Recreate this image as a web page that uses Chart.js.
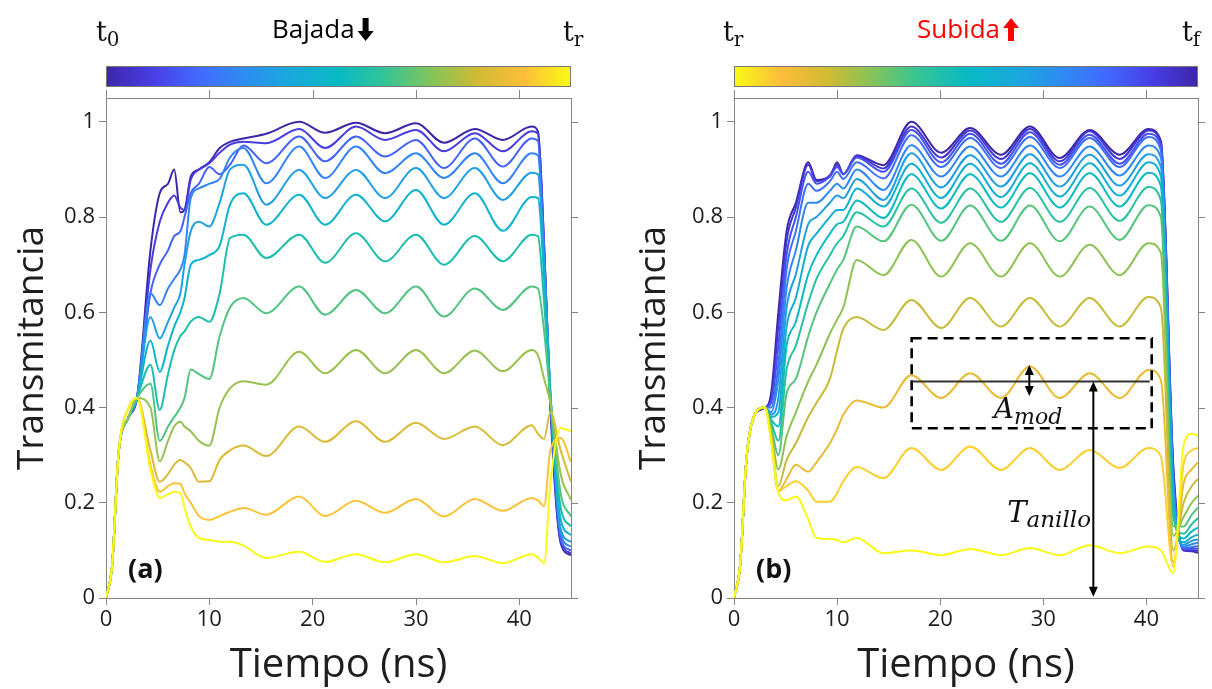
<!DOCTYPE html>
<html>
<head>
<meta charset="utf-8">
<script src="https://cdn.jsdelivr.net/npm/chart.js@4.4.1/dist/chart.umd.min.js"></script>
<style>
  html, body { margin: 0; padding: 0; background: #fff; }
  #wrap { position: relative; width: 1212px; height: 689px; overflow: hidden; background: #fff; }
  canvas { position: absolute; top: 0; }
  #chartA { left: 0; }
  #chartB { left: 606px; }
</style>
</head>
<body>
<div id="wrap">
  <canvas id="chartA" width="606" height="689"></canvas>
  <canvas id="chartB" width="606" height="689"></canvas>
</div>
<script>
// tick values shared by both panels
const xTicks = [0, 10, 20, 30, 40];
const yTicks = [0, 0.2, 0.4, 0.6, 0.8, 1];

// (a) Bajada: sample times (ns) and one curve per step, t0 (purple) -> tr (yellow)
const timesA = [0, 0.6, 1.2, 2.2, 3, 4.3, 5.2, 6, 6.6, 7.2, 7.6, 8.2, 9, 10, 11, 12, 13.3, 15.5, 18.7, 21.2, 24.2, 27, 30, 32.7, 35.7, 38.4, 41.2, 41.8, 42.4, 43, 44, 45];
const a0  = [0, .07, .30, .38, .42, .73, .85, .87, .90, .81, .815, .885, .90, .915, .945, .958, .965, .975, 1.0, .977, .998, .976, .997, .956, .985, .962, .99, .98, .74, .40, .115, .09];
const a1  = [0, .07, .30, .38, .42, .69, .79, .83, .845, .82, .815, .878, .90, .913, .935, .952, .958, .955, .985, .945, .99, .962, .983, .938, .976, .938, .98, .975, .74, .41, .12, .094];
const a2  = [0, .07, .30, .38, .42, .64, .70, .73, .76, .77, .80, .85, .87, .905, .89, .91, .95, .913, .969, .917, .969, .927, .962, .903, .965, .906, .965, .96, .73, .42, .125, .10];
const a3  = [0, .07, .30, .38, .42, .64, .615, .65, .67, .69, .72, .84, .86, .87, .88, .925, .945, .871, .948, .882, .948, .892, .934, .882, .934, .871, .934, .93, .72, .43, .135, .108];
const a4  = [0, .07, .30, .38, .42, .59, .545, .58, .61, .64, .70, .77, .79, .78, .83, .90, .91, .826, .899, .84, .899, .84, .903, .84, .903, .836, .893, .89, .70, .43, .145, .118];
const a5  = [0, .07, .30, .38, .42, .54, .475, .53, .57, .60, .63, .70, .71, .72, .74, .826, .85, .784, .847, .784, .847, .791, .857, .784, .85, .771, .842, .84, .67, .43, .165, .132];
const a6  = [0, .07, .30, .38, .42, .49, .395, .47, .52, .55, .56, .58, .59, .58, .64, .756, .763, .714, .763, .704, .766, .707, .763, .70, .76, .707, .763, .76, .62, .43, .19, .15];
const a7  = [0, .07, .30, .38, .42, .45, .33, .36, .38, .40, .42, .48, .47, .46, .55, .61, .63, .598, .654, .595, .647, .598, .654, .591, .65, .605, .654, .65, .56, .42, .22, .171];
const a8  = [0, .07, .30, .38, .42, .40, .287, .33, .36, .37, .36, .35, .33, .32, .40, .44, .455, .448, .517, .472, .521, .472, .521, .472, .52, .476, .521, .51, .46, .41, .26, .206];
const a9  = [0, .07, .30, .40, .42, .31, .244, .26, .28, .29, .285, .273, .244, .245, .29, .31, .32, .298, .36, .328, .371, .328, .368, .334, .36, .321, .363, .345, .334, .39, .31, .244];
const a10 = [0, .07, .30, .40, .42, .28, .223, .235, .241, .24, .22, .20, .172, .164, .172, .181, .189, .175, .213, .172, .204, .179, .208, .171, .208, .183, .21, .205, .193, .31, .336, .286];
const a11 = [0, .07, .30, .40, .42, .27, .21, .218, .223, .22, .19, .15, .126, .122, .118, .118, .11, .084, .097, .076, .092, .075, .092, .075, .088, .073, .092, .085, .073, .24, .357, .35];

// (b) Subida: tf (purple, top) ... tr (yellow, bottom)
const timesB = [0, 0.6, 1.2, 2, 3, 3.6, 4.3, 5.1, 6, 7.2, 8, 9.3, 10, 10.6, 11.9, 14.5, 17.2, 20.1, 22.9, 25.9, 28.7, 31.6, 34.5, 37.4, 40.2, 41.4, 42.6, 43.6, 44.4, 45];
const b0  = [0, .07, .29, .385, .40, .43, .60, .77, .83, .915, .878, .885, .915, .89, .93, .909, 1.0, .935, .987, .931, .99, .924, .983, .931, .985, .96, .28, .10, .098, .095];
const b1  = [0, .07, .29, .385, .40, .42, .57, .75, .82, .91, .875, .888, .91, .89, .928, .902, .99, .925, .982, .922, .985, .917, .98, .922, .982, .955, .27, .10, .10, .099];
const b2  = [0, .07, .29, .385, .40, .41, .53, .72, .80, .895, .87, .885, .905, .89, .925, .895, .983, .915, .975, .912, .978, .91, .973, .912, .975, .95, .26, .103, .103, .104];
const b3  = [0, .07, .29, .385, .40, .40, .49, .69, .77, .87, .855, .875, .895, .88, .915, .881, .972, .905, .966, .903, .968, .903, .966, .905, .968, .94, .25, .105, .107, .109];
const b4  = [0, .07, .29, .385, .40, .39, .46, .65, .73, .83, .83, .855, .87, .86, .90, .857, .951, .885, .948, .885, .95, .885, .948, .887, .95, .925, .24, .108, .113, .116];
const b5  = [0, .07, .29, .385, .40, .385, .42, .61, .68, .785, .80, .83, .845, .84, .88, .836, .934, .862, .93, .864, .932, .864, .931, .866, .932, .905, .22, .112, .12, .123];
const b6  = [0, .07, .29, .385, .40, .38, .39, .57, .63, .74, .765, .80, .815, .815, .86, .822, .912, .84, .912, .842, .913, .843, .913, .845, .915, .885, .20, .117, .128, .133];
const b7  = [0, .07, .29, .385, .40, .375, .36, .53, .58, .68, .72, .765, .785, .79, .835, .798, .89, .818, .89, .82, .892, .82, .892, .822, .893, .865, .19, .125, .14, .148];
const b8  = [0, .07, .29, .385, .40, .37, .33, .48, .53, .62, .67, .72, .745, .76, .81, .78, .86, .788, .86, .79, .861, .79, .861, .792, .863, .835, .17, .135, .155, .168];
const b9  = [0, .07, .29, .385, .40, .36, .30, .43, .46, .55, .60, .66, .69, .71, .78, .749, .826, .75, .824, .75, .824, .749, .822, .752, .825, .80, .15, .15, .175, .19];
const b10 = [0, .07, .29, .385, .40, .35, .27, .34, .39, .455, .49, .555, .585, .61, .71, .678, .752, .675, .745, .675, .745, .675, .742, .678, .745, .725, .13, .17, .20, .215];
const b11 = [0, .07, .29, .385, .40, .34, .235, .29, .325, .38, .41, .46, .52, .565, .59, .563, .626, .567, .63, .57, .63, .57, .63, .57, .632, .61, .10, .20, .235, .25];
const b12 = [0, .07, .29, .385, .40, .335, .225, .25, .28, .265, .285, .325, .355, .385, .415, .40, .468, .42, .472, .42, .486, .42, .472, .42, .479, .458, .075, .24, .27, .285];
const b13 = [0, .07, .29, .385, .40, .33, .224, .235, .245, .225, .202, .202, .22, .245, .275, .252, .315, .269, .318, .269, .315, .269, .311, .273, .315, .297, .066, .28, .31, .315];
const b14 = [0, .07, .29, .385, .40, .33, .222, .205, .213, .165, .126, .124, .122, .117, .126, .094, .10, .09, .103, .09, .105, .09, .111, .094, .108, .10, .052, .32, .345, .34];

// annotation of panel (b), in data units (ns, transmitance)
const boxT = [17.23, 40.51];
const boxV = [0.3565, 0.5456];
const meanV = 0.4544;
const ampT = 28.64, ampV = [0.4244, 0.4895];
const ringT = 34.85, ringV = [0.0027, 0.4544];

const seriesA = [a0, a1, a2, a3, a4, a5, a6, a7, a8, a9, a10, a11];
const seriesB = [b0, b1, b2, b3, b4, b5, b6, b7, b8, b9, b10, b11, b12, b13, b14];

const axisGray = '#858585';
const textDark = '#1e1e1e';
const serif = '"DejaVu Serif", "Liberation Serif", serif';

// parula-like colormap
const parulaStops = [
  [0.00, [62, 38, 168]], [0.10, [72, 62, 230]], [0.20, [66, 106, 254]],
  [0.30, [45, 142, 240]], [0.40, [24, 170, 218]], [0.50, [8, 186, 194]],
  [0.60, [52, 196, 150]], [0.70, [130, 196, 90]], [0.80, [210, 186, 52]],
  [0.90, [252, 190, 58]], [1.00, [249, 250, 20]]
];
function parula(t) {
  for (let i = 1; i < parulaStops.length; i++) {
    const [p0, c0] = parulaStops[i - 1];
    const [p1, c1] = parulaStops[i];
    if (t <= p1 + 1e-9) {
      const f = (t - p0) / (p1 - p0);
      const c = c0.map((v, k) => Math.round(v + (c1[k] - v) * f));
      return `rgb(${c[0]},${c[1]},${c[2]})`;
    }
  }
  return 'rgb(249,250,20)';
}

Chart.defaults.font.family = '"Open Sans", "Noto Sans", sans-serif';

function subLabel(ctx, x, base, sub) {
  ctx.fillStyle = '#111';
  ctx.textAlign = 'left';
  ctx.textBaseline = 'alphabetic';
  ctx.font = `27px ${serif}`;
  ctx.fillText(base, x, 41);
  const w = ctx.measureText(base).width;
  ctx.font = `20px ${serif}`;
  ctx.fillText(sub, x + w, 46);
}

function blockArrow(ctx, cx, top, bottom, dir, color) {
  const hw = 8, sw = 3, hl = 10;
  ctx.fillStyle = color;
  ctx.beginPath();
  if (dir === 'down') {
    ctx.moveTo(cx - sw, top); ctx.lineTo(cx + sw, top); ctx.lineTo(cx + sw, bottom - hl);
    ctx.lineTo(cx + hw, bottom - hl); ctx.lineTo(cx, bottom); ctx.lineTo(cx - hw, bottom - hl);
    ctx.lineTo(cx - sw, bottom - hl);
  } else {
    ctx.moveTo(cx - sw, bottom); ctx.lineTo(cx + sw, bottom); ctx.lineTo(cx + sw, top + hl);
    ctx.lineTo(cx + hw, top + hl); ctx.lineTo(cx, top); ctx.lineTo(cx - hw, top + hl);
    ctx.lineTo(cx - sw, top + hl);
  }
  ctx.closePath();
  ctx.fill();
}

function dblArrow(ctx, px, yTop, yBot) {
  ctx.beginPath();
  ctx.moveTo(px, yTop + 6); ctx.lineTo(px, yBot - 6);
  ctx.stroke();
  ctx.beginPath();
  ctx.moveTo(px, yTop); ctx.lineTo(px - 4.5, yTop + 10); ctx.lineTo(px + 4.5, yTop + 10); ctx.closePath();
  ctx.moveTo(px, yBot); ctx.lineTo(px - 4.5, yBot - 10); ctx.lineTo(px + 4.5, yBot - 10); ctx.closePath();
  ctx.fill();
}

const framePlugin = {
  id: 'frame',
  afterDraw(chart, args, o) {
    const { ctx, chartArea: a } = chart;
    const x = chart.scales.x, y = chart.scales.y;
    ctx.save();

    // box top/right with mirrored outward ticks
    ctx.strokeStyle = axisGray;
    ctx.lineWidth = 1;
    ctx.beginPath();
    ctx.moveTo(a.left, a.top + 0.5); ctx.lineTo(a.right + 0.5, a.top + 0.5);
    ctx.moveTo(a.right + 0.5, a.top); ctx.lineTo(a.right + 0.5, a.bottom);
    xTicks.forEach(v => {
      const px = Math.round(x.getPixelForValue(v)) + 0.5;
      ctx.moveTo(px, a.top); ctx.lineTo(px, a.top - 8);
    });
    yTicks.forEach(v => {
      const py = Math.round(y.getPixelForValue(v)) + 0.5;
      ctx.moveTo(a.right, py); ctx.lineTo(a.right + 7, py);
    });
    ctx.stroke();

    // colorbar
    const g = ctx.createLinearGradient(a.left, 0, a.right, 0);
    parulaStops.forEach(([p, c]) => g.addColorStop(o.reverse ? 1 - p : p, `rgb(${c[0]},${c[1]},${c[2]})`));
    ctx.fillStyle = g;
    ctx.fillRect(a.left, 66, a.right - a.left, 21);
    ctx.strokeStyle = '#777';
    ctx.strokeRect(a.left + 0.5, 66.5, a.right - a.left - 1, 20);

    // colorbar labels
    subLabel(ctx, o.leftX, 't', o.leftSub);
    subLabel(ctx, o.rightX, 't', o.rightSub);
    ctx.font = '26px "Open Sans", "Noto Sans", sans-serif';
    ctx.fillStyle = o.midColor;
    ctx.textBaseline = 'alphabetic';
    ctx.fillText(o.midText, o.midX, 38);
    const mw = ctx.measureText(o.midText).width;
    blockArrow(ctx, o.midX + mw + 11, 18, 41, o.arrow, o.midColor);

    // panel letter
    ctx.fillStyle = '#111';
    ctx.font = 'bold 27px "Open Sans", "Noto Sans", sans-serif';
    ctx.fillText(o.letter, a.left + 22, a.bottom - 20);

    if (o.annot) {
      const X = v => x.getPixelForValue(v), Y = v => y.getPixelForValue(v);
      ctx.strokeStyle = '#000';
      ctx.fillStyle = '#000';
      ctx.lineWidth = 2.6;
      ctx.setLineDash([10, 6]);
      ctx.strokeRect(X(boxT[0]), Y(boxV[1]), X(boxT[1]) - X(boxT[0]), Y(boxV[0]) - Y(boxV[1]));
      ctx.setLineDash([]);
      ctx.strokeStyle = '#333';
      ctx.lineWidth = 2;
      ctx.beginPath();
      ctx.moveTo(X(boxT[0]), Y(meanV)); ctx.lineTo(X(boxT[1]) - 2, Y(meanV));
      ctx.stroke();
      ctx.strokeStyle = '#000';
      dblArrow(ctx, X(ampT), Y(ampV[1]), Y(ampV[0]));
      dblArrow(ctx, X(ringT), Y(ringV[1]), Y(ringV[0]));

      ctx.fillStyle = '#111';
      ctx.font = `italic 28px ${serif}`;
      ctx.fillText('A', X(25.2), Y(0.378));
      let w = ctx.measureText('A').width;
      ctx.font = `italic 22px ${serif}`;
      ctx.fillText('mod', X(25.2) + w, Y(0.366));
      ctx.font = `italic 29px ${serif}`;
      ctx.fillText('T', X(26.5), Y(0.160));
      w = ctx.measureText('T').width;
      ctx.font = `italic 23px ${serif}`;
      ctx.fillText('anillo', X(26.5) + w, Y(0.149));
    }
    ctx.restore();
  }
};

function makeChart(id, times, series, frame) {
  const n = series.length;
  const axisCommon = {
    grid: { drawOnChartArea: false, drawTicks: true, tickLength: 7, color: axisGray, lineWidth: 1 },
    border: { display: true, color: axisGray, width: 1 },
  };
  return new Chart(document.getElementById(id), {
    type: 'line',
    data: {
      datasets: series.map((vals, i) => ({
        data: vals.map((v, k) => ({ x: times[k], y: v })),
        borderColor: parula(i / (n - 1)),
        borderWidth: 2,
        borderJoinStyle: 'round',
        pointRadius: 0,
        cubicInterpolationMode: 'monotone',
        fill: false,
        order: n - 1 - i
      }))
    },
    options: {
      responsive: false,
      animation: false,
      devicePixelRatio: 1,
      events: [],
      layout: { padding: { left: 0, right: frame.padRight, top: 98, bottom: 0 } },
      plugins: { legend: { display: false }, tooltip: { enabled: false }, frame },
      scales: {
        x: {
          type: 'linear', min: 0, max: 45,
          afterBuildTicks: s => { s.ticks = xTicks.map(value => ({ value })); },
          afterFit: s => { s.height = 91; },
          ...axisCommon,
          ticks: { color: textDark, font: { size: 22 }, padding: 2, maxRotation: 0, callback: v => String(v) },
          title: { display: true, text: 'Tiempo (ns)', color: textDark, font: { size: 40, lineHeight: 1.15 }, padding: 0 }
        },
        y: {
          type: 'linear', min: 0, max: 1.05,
          afterBuildTicks: s => { s.ticks = yTicks.map(value => ({ value })); },
          afterFit: s => { s.width = frame.yWidth; },
          ...axisCommon,
          ticks: { color: textDark, font: { size: 22 }, padding: 4, callback: v => String(v) },
          title: { display: true, text: 'Transmitancia', color: textDark, font: { size: 37, lineHeight: 1.2 }, padding: { top: frame.yTitlePad, bottom: 0 } }
        }
      }
    },
    plugins: [framePlugin]
  });
}

makeChart('chartA', timesA, seriesA, {
  padRight: 35, yWidth: 106, yTitlePad: 10, reverse: false,
  leftX: 96, leftSub: '0', rightX: 563, rightSub: 'r',
  midText: 'Bajada', midX: 272, midColor: '#000', arrow: 'down',
  letter: '(a)', annot: false
});
makeChart('chartB', timesB, seriesB, {
  padRight: 14, yWidth: 128, yTitlePad: 26, reverse: true,
  leftX: 117, leftSub: 'r', rightX: 576, rightSub: 'f',
  midText: 'Subida', midX: 311, midColor: '#ff0000', arrow: 'up',
  letter: '(b)', annot: true
});
</script>
</body>
</html>
